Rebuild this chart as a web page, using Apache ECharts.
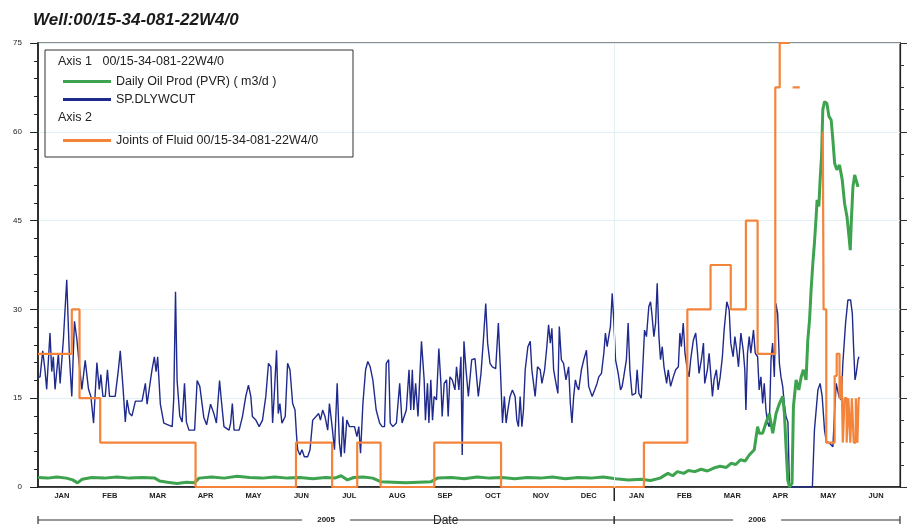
<!DOCTYPE html>
<html lang="en">
<head>
    <meta charset="UTF-8">
    <title>Well:00/15-34-081-22W4/0</title>
    <style>
        html, body { margin: 0; padding: 0; background: #fff; }
        #chart { width: 915px; height: 529px; }
    </style>
    <script src="https://cdn.jsdelivr.net/npm/echarts@6/dist/echarts.min.js"></script>
</head>
<body>
    <div id="chart"></div>
    <script>
        // x positions are days counted from 2005-01-01
        const START = Date.UTC(2005, 0, 1);
        const DAY = 86400000;
        const END_DAY = 546;

        const months = ['JAN', 'FEB', 'MAR', 'APR', 'MAY', 'JUN', 'JUL', 'AUG', 'SEP',
            'OCT', 'NOV', 'DEC', 'JAN', 'FEB', 'MAR', 'APR', 'MAY', 'JUN'];
        const years = [['2005', 0, 365], ['2006', 365, END_DAY]];

        // Daily Oil Prod (PVR) (m3/d) - axis 1
        const oilProd = [[0,1.6],[6,1.5],[12,1.7],[18,1.5],[22,1.2],[25,0.7],[28,1.3],[34,1.6],[42,1.5],[50,1.7],
            [58,1.5],[66,1.6],[74,1.5],[77,1.0],[82,0.8],[88,0.6],[94,0.8],[99,0.7],[102,1.5],[110,1.7],
            [118,1.5],[126,1.8],[134,1.6],[142,1.5],[150,1.7],[158,1.5],[166,1.6],[174,1.4],[182,1.6],[188,1.5],
            [192,1.9],[196,1.2],[200,1.6],[206,1.7],[212,1.5],[217,0.9],[225,0.8],[233,0.7],[241,0.8],[249,0.9],
            [253,1.5],[262,1.6],[270,1.4],[278,1.7],[286,1.5],[294,1.6],[302,1.4],[310,1.6],[318,1.5],[326,1.7],
            [334,1.4],[342,1.6],[350,1.5],[358,1.7],[366,1.4],[374,1.2],[382,1.3],[388,1.1],[394,1.5],[399,2.3],
            [402,1.9],[405,2.6],[409,2.3],[412,2.8],[416,2.6],[420,3.0],[424,2.7],[428,3.2],[432,3.5],[436,3.3],
            [439,4.0],[442,3.8],[445,4.6],[448,4.4],[450.5,5.4],[453.7,6.3],[455.8,10.2],[456.8,9.1],[459,9.1],[461.1,10.8],
            [463.2,12.4],[465.4,9.1],[467.5,12.4],[469.6,14.1],[471.7,15.3],[472.8,12.4],[473.8,6.8],[474.9,1.2],[476,0],[477.6,0.6],
            [478.5,13.6],[480.2,18.1],[481.9,16.4],[483.4,18.6],[484.8,19.8],[486.5,18.1],[487.6,24.8],[488.7,28.2],[489.7,33.3],[490.8,37.8],
            [491.8,41.2],[492.9,45.7],[493.5,48.5],[494.6,47.4],[495.4,51.9],[496.3,55.8],[497.1,63.7],[498.2,65.1],[499.7,64.8],[501,62.6],
            [502.4,62],[503.5,58.6],[504.6,54.7],[506,53.6],[507.7,54.4],[509.4,51.9],[510.9,47.9],[512.4,45.7],[513.7,42.3],[514.5,40],
            [515.1,44.5],[516.2,50.7],[517.3,52.7],[518.3,52.4],[519.4,50.7]];

        // SP.DLYWCUT - axis 1
        const waterCut = [[0,18.5],[1.3,18.6],[3,23],[4.4,19.8],[5.5,16.5],[7.6,26],[8.7,19.5],[9.7,22],[10.8,16.5],[12.9,22.5],
            [14,17.5],[16.1,25],[18.2,35],[19.9,22],[21.4,15.3],[23.1,28],[24.6,25],[26,21],[27.8,16.5],[29.9,21.4],
            [32,16.5],[33.5,15.3],[35.2,10.8],[37.3,21],[38.8,16.5],[39.8,19],[41.1,15.3],[42.6,15.3],[44,19.8],[45.3,15.3],
            [48.9,15.3],[51,20],[52.1,23],[53.8,17],[55.3,11],[56.4,14.7],[57.8,12.5],[59.5,12],[61.7,14.5],[65.9,14.5],
            [68,17.5],[69.1,14],[72.2,19.8],[73.7,22],[74.8,19.5],[75.8,22],[77.5,14],[79.7,10.8],[85,10.2],[86,15],
            [87.1,33],[88.1,18],[89.8,12],[91.3,11],[92.8,17.5],[94,11],[95.6,9.6],[99.2,9.6],[100.8,18],[102.5,17],
            [105,11.8],[106.8,10.5],[109.3,14],[111.4,12.4],[113,10.8],[115,18],[116,15],[117.8,10.2],[121,9.6],[122,10.8],
            [123.1,14.1],[124.2,9.6],[127.4,9.6],[129.5,11.9],[131.6,15.3],[133.3,17.2],[134.8,15.3],[135.8,11.9],[138,11.3],[140.1,10.2],
            [142.2,11.3],[144.3,15.3],[146,20.9],[147.5,20.3],[148.6,10.8],[149.6,15.3],[151.1,23.1],[152.2,12.4],[153.2,14.1],[154.5,10.8],
            [156.6,11.9],[158.1,20.9],[159.6,19.8],[161.3,14.1],[162.8,13],[163.8,8.5],[164.5,6.3],[165.9,5.4],[167.2,6.3],[168.7,5.1],
            [170.8,5.1],[172.3,6.3],[174,11.3],[176.1,11.9],[177.8,12.4],[178.9,11.3],[180.3,13],[181.8,11.9],[183.5,9.6],[184.6,14.1],
            [186.3,10.2],[187.8,6.3],[189.5,17.5],[190.9,7.4],[192,5.1],[193.1,11.9],[194.1,5.7],[195.6,11.3],[197.3,10.2],[200.5,10.2],
            [202,8.5],[203.2,10.2],[204.3,5.7],[205.8,14.1],[207.5,19.8],[208.9,21.2],[210.4,20.3],[212.1,18.1],[214.2,13],[216.4,10.8],
            [218,10.2],[219.5,10.2],[220.6,20.9],[222.1,21.5],[223.1,10.8],[224.8,10.2],[227,10.8],[229.1,17.5],[230.6,10.8],[233.3,13],
            [235,19.8],[236.1,13],[237.1,19.8],[238,13],[239.2,17.5],[240.7,11.9],[242.9,24.6],[244.6,18.1],[245.4,11.3],[246.7,17.5],
            [247.6,10.8],[248.8,18.1],[249.9,11.3],[250.9,15.3],[252.4,14.7],[253.9,23.4],[255.2,17.5],[256,11.9],[257.3,17.5],[258.8,18.1],
            [259.8,11.9],[260.9,18.6],[262.4,18.1],[264.1,16.4],[265.1,20.3],[266.6,16.4],[267.9,22],[268.7,5.4],[269.8,24.6],[271.1,19.8],
            [272.6,15.3],[273.6,15.3],[274.7,21.5],[276.8,21.7],[277.9,21.5],[278.9,15.3],[280.6,19.2],[282.1,24.8],[283.6,31],[284.8,24.3],
            [286.3,20.9],[287.8,20.3],[289.9,20],[291.6,27.7],[292.9,19.8],[294.2,10.8],[295.4,15.3],[296.5,10.8],[297.6,13],[299,15.3],
            [300.5,16.4],[302.2,15.3],[303.3,11.3],[304.3,10.2],[305.4,15.3],[306.5,10.2],[307.5,13],[308.6,19.8],[310.3,23.7],[311.8,24.6],
            [312.8,19.8],[314.9,15.3],[316.4,20.3],[318.1,19.8],[319.2,17.5],[320.9,19.8],[322.3,23.7],[323.4,27.4],[324.5,24.3],[325.5,26.8],
            [326.6,19.8],[328.1,17.5],[329.3,15.8],[330.2,27.1],[331.5,21.5],[332.9,20.9],[334.4,18.1],[336.1,20.3],[337.2,14.1],[338.2,10.8],
            [339.3,15.3],[340.4,18.1],[341.4,17],[342.5,16.4],[344.2,19.8],[345.7,21.5],[347.4,23.1],[348.8,17],[351,15.3],[352.6,16.4],
            [354.1,17.5],[355.2,18.6],[356.9,19.2],[358.4,22.6],[359.4,26],[360.5,23.7],[361.5,25.4],[362.6,27.1],[363.7,32.7],[364.7,28.2],
            [365.8,21.5],[367.5,19.2],[369,16.4],[370,17],[371,18.6],[372.7,21.5],[373.8,27.7],[374.9,19.8],[376.3,15.5],[378.5,15.8],
            [379.5,19.8],[380.6,15.8],[382.1,15],[383.3,21.5],[384.2,26.5],[385.4,25.4],[386.9,30.5],[388,31.3],[389,28.8],[390.1,25.4],
            [391.2,27.7],[392.2,34.4],[393.3,25.4],[394.3,21.5],[395.4,23.7],[396.5,20.3],[398.2,17.5],[399.2,19.8],[400.7,17],[402.4,18.6],
            [403.9,19.8],[405.6,20.3],[406.6,26],[407.5,23.7],[408.7,27.7],[409.8,22.6],[411.3,19.8],[412.4,18.6],[413.4,21.5],[415.1,24.8],
            [416.6,26],[417.6,23.1],[418.7,19.2],[420.2,21.5],[421.5,24.3],[422.3,17.5],[424,19.8],[425.1,22.6],[426.1,19.2],[427.2,15.3],
            [428.2,18.1],[429.7,19.8],[430.8,16.4],[432.1,18.6],[433.5,22],[434.6,26.5],[436.3,31.3],[437.8,29.9],[438.8,24.3],[440.3,22],
            [441.4,25.4],[442.6,23.1],[443.7,20.3],[445.2,26],[446.7,23.1],[447.7,19.8],[448.4,13],[449.4,22.6],[450.5,25.4],[451.5,22.6],
            [453.2,26.5],[454.3,22.6],[455.8,22],[456.8,16.4],[457.9,18.6],[459,14.1],[460,17.5],[461.1,13],[462.1,10.8],[463.2,10.2],
            [464.3,21.5],[465.3,24.3],[466.4,18.6],[467.4,31],[468.5,29.3],[469.6,20.9],[470.6,18.6],[471.7,17],[472.7,14.1],[473.8,11.9],
            [475,11],[476,0],[490.5,0],[491.8,9.6],[494,16.4],[495.4,17.5],[496.7,15.3],[498.2,9.6],[499.3,7.7],[501.4,7.4],
            [503.5,6.8],[504.6,13],[505.6,17.5],[507.3,15.3],[508.8,14.7],[509.8,20.9],[511.5,27.6],[513,31.6],[514.7,31.6],[515.8,29.3],
            [516.6,23.7],[517.5,18.1],[518.3,19.2],[519.4,21.5],[520,22]];

        // Joints of Fluid - axis 2, value holds until the next point (null = no data)
        const joints = [[0,6],[21.4,8],[26.3,4],[39.4,2],[99.8,0],[163.4,2],[186.3,0],[202.2,2],[217,0],[251,2],
            [293.3,0],[383.8,2],[411.3,8],[426,10],[438.8,8],[448.4,12],[455.8,6],[467,18],[469.8,20],[476.2,20],
            [476.3,null],[478,18],[482.5,18],[482.6,null],[497.1,16],[497.6,8],[499.3,2],[504.6,5],[505.9,6],[507.7,4],
            [509,5],[509.8,2],[510.9,4],[512.2,2],[513.3,4],[514.5,2],[515.5,4],[516.7,2],[518,4],[519,2],
            [519.8,4],[520.7,4]];

        const toTime = arr => arr.map(([d, v]) => [START + d * DAY, v]);
        const FONT = "'Liberation Sans', Arial, sans-serif";

        const chart = echarts.init(document.getElementById('chart'));

        const option = {
            backgroundColor: '#fff',
            animation: false,
            title: {
                text: 'Well:00/15-34-081-22W4/0',
                left: 28,
                top: 7,
                textStyle: { fontFamily: FONT, fontSize: 17, fontWeight: 'bold', fontStyle: 'italic', color: '#1a1a1a' }
            },
            grid: { left: 38, right: 15, top: 43, bottom: 42, show: true, borderColor: '#8a8a8a', borderWidth: 2 },
            legend: [
                {
                    data: ['Daily Oil Prod (PVR) ( m3/d )', 'SP.DLYWCUT'],
                    orient: 'vertical', left: 58, top: 70, itemWidth: 48, itemHeight: 3, itemGap: 5,
                    icon: 'rect',
                    textStyle: { fontFamily: FONT, fontSize: 12.5, color: '#222' }
                },
                {
                    data: ['Joints of Fluid 00/15-34-081-22W4/0'],
                    orient: 'vertical', left: 58, top: 129, itemWidth: 48, itemHeight: 3,
                    icon: 'rect',
                    textStyle: { fontFamily: FONT, fontSize: 12.5, color: '#222' }
                }
            ],
            xAxis: [
                {
                    type: 'time',
                    min: START, max: START + END_DAY * DAY,
                    axisLine: { show: false }, axisTick: { show: false },
                    axisLabel: { show: false }, splitLine: { show: false }
                },
                {
                    type: 'category',
                    data: months,
                    position: 'bottom',
                    boundaryGap: true,
                    axisLine: { lineStyle: { color: '#111', width: 1.5 } },
                    axisTick: { length: 5, lineStyle: { color: '#222' } },
                    axisLabel: { fontFamily: FONT, fontSize: 7.5, fontWeight: 'bold', color: '#222', margin: 5, interval: 0 },
                    splitLine: { show: false }
                }
            ],
            yAxis: [
                {
                    type: 'value', min: 0, max: 75, interval: 15,
                    axisLine: { show: true, lineStyle: { color: '#111', width: 1.5 } },
                    axisTick: { show: true, length: 8, lineStyle: { color: '#222' } },
                    minorTick: { show: true, splitNumber: 5, length: 4, lineStyle: { color: '#222' } },
                    axisLabel: { fontFamily: FONT, fontSize: 8, color: '#222', margin: 16 },
                    splitLine: { lineStyle: { color: '#e0f1f5', width: 1 } }
                },
                {
                    type: 'value', min: 0, max: 20, interval: 4,
                    position: 'right',
                    axisLine: { show: true, lineStyle: { color: '#222', width: 1.2 } },
                    axisTick: { show: true, length: 7, lineStyle: { color: '#333' } },
                    minorTick: { show: true, splitNumber: 4, length: 4, lineStyle: { color: '#333' } },
                    axisLabel: { show: false },
                    splitLine: { show: false }
                }
            ],
            series: [
                {
                    name: 'Daily Oil Prod (PVR) ( m3/d )',
                    type: 'line', xAxisIndex: 0, yAxisIndex: 0,
                    data: toTime(oilProd),
                    showSymbol: false,
                    color: '#3da34f',
                    lineStyle: { width: 3, color: '#3da34f' },
                    z: 3
                },
                {
                    name: 'SP.DLYWCUT',
                    type: 'line', xAxisIndex: 0, yAxisIndex: 0,
                    data: toTime(waterCut),
                    showSymbol: false,
                    color: '#1f2a8c',
                    lineStyle: { width: 1.4, color: '#1f2a8c' },
                    markLine: {
                        silent: true, symbol: 'none', label: { show: false },
                        lineStyle: { color: '#e3eff2', type: 'solid', width: 1 },
                        data: [{ xAxis: START + years[1][1] * DAY }]
                    },
                    z: 2
                },
                {
                    name: 'Joints of Fluid 00/15-34-081-22W4/0',
                    type: 'line', xAxisIndex: 0, yAxisIndex: 1,
                    data: toTime(joints),
                    step: 'end',
                    showSymbol: false,
                    connectNulls: false,
                    color: '#f4843a',
                    lineStyle: { width: 2.2, color: '#f4843a' },
                    z: 4
                }
            ]
        };

        chart.setOption(option);

        // legend frame, axis headers and the year bar under the month labels
        const px = d => chart.convertToPixel({ xAxisIndex: 0 }, START + d * DAY);
        const graphics = [
            { type: 'rect', shape: { x: 45, y: 50, width: 308, height: 107 }, style: { fill: 'none', stroke: '#333', lineWidth: 1 } },
            { type: 'text', left: 58, top: 55, style: { text: 'Axis 1   00/15-34-081-22W4/0', font: '12.5px ' + FONT, fill: '#222' } },
            { type: 'text', left: 58, top: 111, style: { text: 'Axis 2', font: '12.5px ' + FONT, fill: '#222' } },
            { type: 'text', left: 433, top: 515, style: { text: 'Date', font: '12px ' + FONT, fill: '#222' } }
        ];
        const barY = 520;
        years.forEach(([label, from, to]) => {
            const x0 = px(from), x1 = px(to), mid = (x0 + x1) / 2;
            graphics.push(
                { type: 'line', shape: { x1: x0, y1: barY, x2: mid - 24, y2: barY }, style: { stroke: '#333', lineWidth: 1.2 } },
                { type: 'line', shape: { x1: mid + 24, y1: barY, x2: x1, y2: barY }, style: { stroke: '#333', lineWidth: 1.2 } },
                { type: 'line', shape: { x1: x0, y1: barY - 4, x2: x0, y2: barY + 4 }, style: { stroke: '#333', lineWidth: 1.2 } },
                { type: 'line', shape: { x1: x1, y1: barY - 4, x2: x1, y2: barY + 4 }, style: { stroke: '#333', lineWidth: 1.2 } },
                { type: 'text', x: mid, y: barY, style: { text: label, font: 'bold 8px ' + FONT, fill: '#222', align: 'center', verticalAlign: 'middle' } }
            );
        });
        // longer tick at the year change
        const yx = px(years[1][1]);
        graphics.push({ type: 'line', shape: { x1: yx, y1: 487, x2: yx, y2: 501 }, style: { stroke: '#222', lineWidth: 1.5 } });

        chart.setOption({ graphic: graphics });
    </script>
</body>
</html>
